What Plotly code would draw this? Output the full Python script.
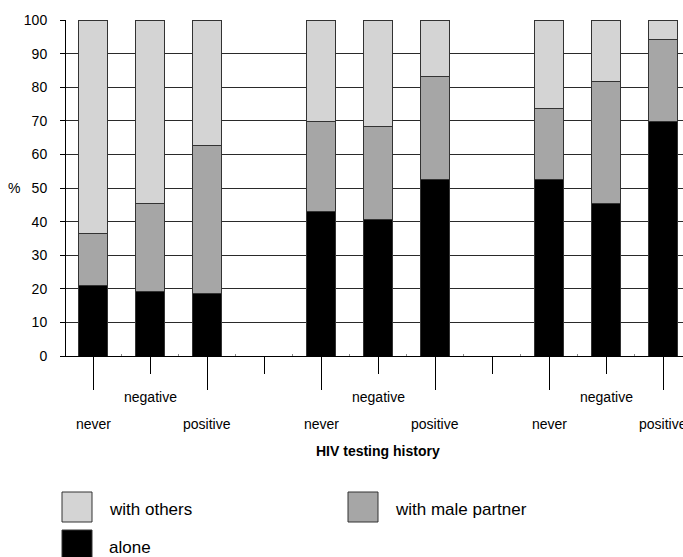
import plotly.graph_objects as go

# Slots along the x axis; empty strings are the spacer slots between groups
slots = ["never", "negative", "positive", "",
         "never", "negative", "positive", "",
         "never", "negative", "positive"]

# Percentages per bar (bottom to top of each stack)
alone = [21.0, 19.3, 18.5, 43.1, 40.6, 52.6, 52.6, 45.4, 69.9]
with_male_partner = [15.4, 26.0, 44.2, 26.6, 27.6, 30.7, 21.2, 36.2, 24.4]
with_others = [63.6, 54.7, 37.3, 30.3, 31.8, 16.7, 26.2, 18.4, 5.7]

y_ticks = list(range(0, 101, 10))

series = [
    ("alone", alone, "#000000"),
    ("with male partner", with_male_partner, "#a6a6a6"),
    ("with others", with_others, "#d4d4d4"),
]

FONT = "Liberation Sans, Arial, sans-serif"
W, H = 683, 557
L, R, T, B = 66, 0, 20, 201
plot_w = W - L - R
plot_h = H - T - B

bar_x = [i for i, s in enumerate(slots) if s]
all_x = list(range(len(slots)))
long_tick_x = [i for i, s in enumerate(slots) if s in ("never", "positive")]

fig = go.Figure()
for name, vals, color in series:
    fig.add_trace(go.Bar(
        x=bar_x, y=vals, name=name, width=0.5,
        marker=dict(color=color, line=dict(color="#333333", width=1)),
        showlegend=False,
    ))

# invisible trace so the overlaying axis is drawn
fig.add_trace(go.Scatter(x=[bar_x[0]], y=[0], xaxis="x2", mode="markers",
                         marker=dict(opacity=0), showlegend=False, hoverinfo="skip"))

x_range = [-0.474, 10.35]

fig.update_layout(
    width=W, height=H,
    margin=dict(l=L, r=R, t=T, b=B, pad=0),
    paper_bgcolor="white", plot_bgcolor="white",
    barmode="stack",
    font=dict(family=FONT, size=14, color="#000000"),
    xaxis=dict(
        range=x_range, tickmode="array", tickvals=all_x, showticklabels=False,
        ticks="outside", ticklen=17, tickwidth=1, tickcolor="#000000",
        showline=True, linecolor="#000000", linewidth=1, showgrid=False,
        zeroline=False, fixedrange=True,
        minor=dict(tickmode="array", tickvals=[v + 0.5 for v in all_x],
                   ticks="inside", ticklen=2, tickcolor="#888888", showgrid=False),
    ),
    xaxis2=dict(
        range=x_range, overlaying="x", anchor="y", side="bottom",
        tickmode="array", tickvals=long_tick_x, showticklabels=False,
        ticks="outside", ticklen=33, tickwidth=1, tickcolor="#000000",
        showline=False, showgrid=False, zeroline=False, fixedrange=True,
    ),
    yaxis=dict(
        range=[0, 100], tickmode="array", tickvals=y_ticks,
        ticks="outside", ticklen=5, tickcolor="#000000", tickwidth=1,
        ticklabelstandoff=10,
        tickfont=dict(size=14),
        showline=True, linecolor="#000000", linewidth=1,
        showgrid=True, gridcolor="#2a2a2a", gridwidth=1,
        zeroline=False, fixedrange=True,
    ),
)

annotations = []
# category labels, "negative" on the upper row
for i, s in enumerate(slots):
    if not s:
        continue
    annotations.append(dict(
        x=i, y=0, xref="x", yref="y", text=s, showarrow=False,
        xanchor="center", yanchor="middle",
        yshift=-41 if s == "negative" else -68,
        font=dict(size=14),
    ))

# x axis title
annotations.append(dict(
    x=(len(slots) - 1) / 2, y=0, xref="x", yref="y",
    text="<b>HIV testing history</b>", showarrow=False,
    xanchor="center", yanchor="middle", yshift=-95, font=dict(size=14),
))

# y axis title
annotations.append(dict(
    x=0, y=50, xref="paper", yref="y", text="%", showarrow=False,
    xanchor="right", yanchor="middle", xshift=-44, font=dict(size=14),
))

# legend: swatches and labels
def px_x(px):
    return (px - L) / plot_w

def px_y(py):
    return (H - B - py) / plot_h

legend_items = [
    ("with others", "#d4d4d4", 62, 492),
    ("with male partner", "#a6a6a6", 348, 492),
    ("alone", "#000000", 62, 530),
]
shapes = []
for name, color, sx, sy in legend_items:
    shapes.append(dict(
        type="rect", xref="paper", yref="paper",
        x0=px_x(sx), x1=px_x(sx + 30), y0=px_y(sy), y1=px_y(sy + 30),
        fillcolor=color, line=dict(color="#333333", width=1),
    ))
    annotations.append(dict(
        x=px_x(sx + 45), y=px_y(sy + 17), xref="paper", yref="paper",
        text=name, showarrow=False, xanchor="left", yanchor="middle",
        font=dict(size=17),
    ))

fig.update_layout(annotations=annotations, shapes=shapes)

fig.write_html("out.html")
